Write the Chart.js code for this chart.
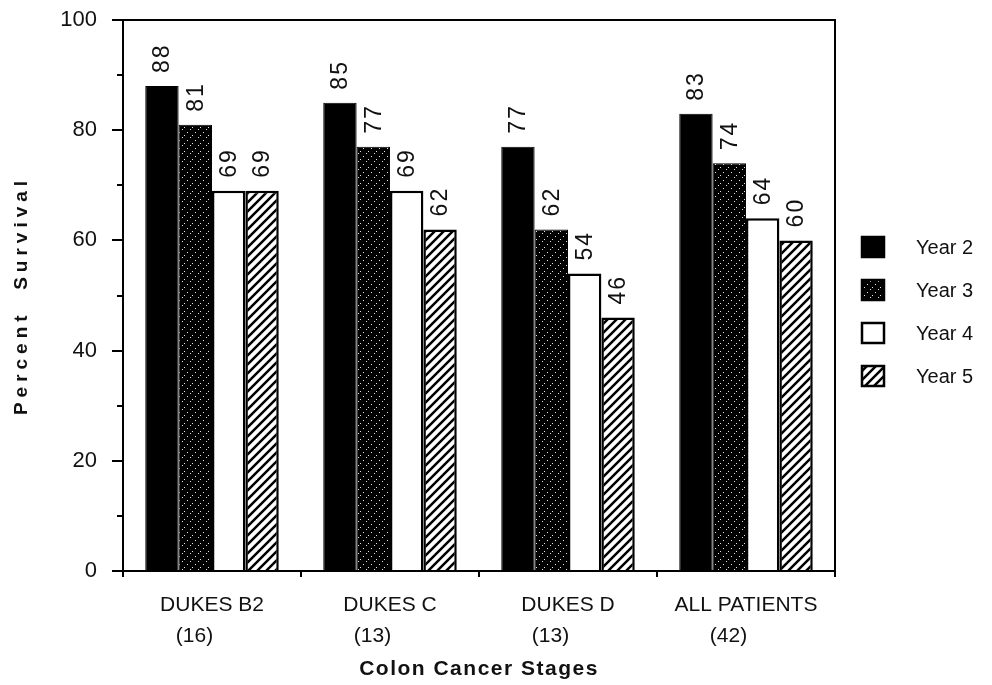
<!DOCTYPE html>
<html>
<head>
<meta charset="utf-8">
<title>Percent Survival by Colon Cancer Stage</title>
<script src="https://cdn.jsdelivr.net/npm/chart.js@4/dist/chart.umd.min.js"></script>
<style>
  html, body { margin: 0; padding: 0; background: #ffffff; }
  #wrap { width: 992px; height: 685px; }
</style>
</head>
<body>
<div id="wrap"><canvas id="chart" width="992" height="685"></canvas></div>
<script>
// Stages (with patient counts) and survival percentages per follow-up year
const stageNames = ['DUKES B2', 'DUKES C', 'DUKES D', 'ALL PATIENTS'];
const patientCounts = ['(16)', '(13)', '(13)', '(42)'];
const seriesNames = ['Year 2', 'Year 3', 'Year 4', 'Year 5'];
const year2 = [88, 85, 77, 83];
const year3 = [81, 77, 62, 74];
const year4 = [69, 69, 54, 64];
const year5 = [69, 62, 46, 60];
const yTicks = [0, 20, 40, 60, 80, 100];
const yMinorTicks = [10, 30, 50, 70, 90];

const FONT = '"Liberation Sans", Arial, Helvetica, sans-serif';
const INK = '#111111';

// Fill patterns for the bars
function makeTile(size, paint) {
  const c = document.createElement('canvas');
  c.width = size; c.height = size;
  paint(c.getContext('2d'), size);
  return document.getElementById('chart').getContext('2d').createPattern(c, 'repeat');
}
// black with sparse white dots along "/" diagonals
const dottedBlack = makeTile(8, (g, s) => {
  g.fillStyle = '#000'; g.fillRect(0, 0, s, s);
  g.fillStyle = 'rgba(255,255,255,0.9)';
  [[0, 7], [3, 4], [6, 1]].forEach(([x, y]) => g.fillRect(x, y, 1, 1));
});
// white with black "/" hatching
const hatched = makeTile(9, (g, s) => {
  g.fillStyle = '#fff'; g.fillRect(0, 0, s, s);
  g.strokeStyle = '#000'; g.lineWidth = 2.5; g.lineCap = 'square';
  g.beginPath();
  g.moveTo(0, s); g.lineTo(s, 0);
  g.moveTo(-2, 2); g.lineTo(2, -2);
  g.moveTo(s - 2, s + 2); g.lineTo(s + 2, s - 2);
  g.stroke();
});

const seriesValues = [year2, year3, year4, year5];
const seriesFills = ['#000000', dottedBlack, '#ffffff', hatched];
const seriesBorders = [1, 1, 2.5, 2.5];

const labels = stageNames.map((n, i) => [n, patientCounts[i] + '      ']);

// Rotated value labels above each bar
const valueLabels = {
  id: 'valueLabels',
  afterDatasetsDraw(chart) {
    const ctx = chart.ctx;
    ctx.save();
    ctx.font = '23px ' + FONT;
    ctx.fillStyle = INK;
    ctx.textAlign = 'left';
    ctx.textBaseline = 'middle';
    ctx.letterSpacing = '2px';
    chart.data.datasets.forEach((ds, di) => {
      chart.getDatasetMeta(di).data.forEach((bar, i) => {
        ctx.save();
        ctx.translate(bar.x + 1, bar.y - 13);
        ctx.rotate(-Math.PI / 2);
        ctx.fillText(String(ds.data[i]), 0, 0);
        ctx.restore();
      });
    });
    ctx.restore();
  }
};

// Top/right frame lines and short minor ticks on the y axis
const frame = {
  id: 'frame',
  afterDraw(chart) {
    const { ctx, chartArea: a, scales: { y } } = chart;
    ctx.save();
    ctx.strokeStyle = '#000';
    ctx.lineWidth = 2;
    ctx.beginPath();
    ctx.moveTo(a.left - 11, a.top);
    ctx.lineTo(a.right, a.top);
    ctx.lineTo(a.right, a.bottom);
    ctx.stroke();
    ctx.beginPath();
    yMinorTicks.forEach(v => {
      const py = Math.round(y.getPixelForValue(v));
      ctx.moveTo(a.left - 6, py);
      ctx.lineTo(a.left, py);
    });
    ctx.stroke();
    ctx.restore();
  }
};

// Legend drawn at the right of the plot, one swatch per dataset
const sideLegend = {
  id: 'sideLegend',
  afterDraw(chart) {
    const { ctx, chartArea: a } = chart;
    const x0 = a.right + 27;
    const y0 = 247;
    const step = 43;
    ctx.save();
    ctx.font = '20px ' + FONT;
    ctx.fillStyle = INK;
    ctx.textBaseline = 'middle';
    chart.data.datasets.forEach((ds, i) => {
      const cy = y0 + i * step;
      ctx.fillStyle = ds.backgroundColor;
      ctx.fillRect(x0, cy - 10, 22, 20);
      ctx.strokeStyle = '#000';
      ctx.lineWidth = 2.5;
      ctx.strokeRect(x0, cy - 10, 22, 20);
      ctx.fillStyle = INK;
      ctx.fillText(ds.label, x0 + 54, cy + 1);
    });
    ctx.restore();
  }
};

// Wider letter spacing for the axis titles
const spacedTitles = {
  id: 'spacedTitles',
  beforeDraw(chart) {
    [['x', '1.5px'], ['y', '5px']].forEach(([id, sp]) => {
      const s = chart.scales[id];
      if (s && !s.__spaced) {
        const orig = s.drawTitle.bind(s);
        s.drawTitle = function () {
          this.ctx.save();
          this.ctx.letterSpacing = sp;
          orig();
          this.ctx.restore();
        };
        s.__spaced = true;
      }
    });
  }
};

new Chart(document.getElementById('chart'), {
  type: 'bar',
  data: {
    labels: labels,
    datasets: seriesNames.map((name, i) => ({
      label: name,
      data: seriesValues[i],
      backgroundColor: seriesFills[i],
      borderColor: '#000000',
      borderWidth: seriesBorders[i],
      categoryPercentage: 0.75,
      barPercentage: 1.0
    }))
  },
  options: {
    responsive: false,
    animation: false,
    devicePixelRatio: 1,
    layout: { padding: { top: 20, right: 157, bottom: 0, left: 0 } },
    plugins: {
      legend: { display: false },
      tooltip: { enabled: false }
    },
    scales: {
      x: {
        afterFit: s => { s.height = 114; },
        ticks: {
          font: { family: FONT, size: 21, lineHeight: 1.5 },
          color: INK,
          padding: 12,
          maxRotation: 0,
          autoSkip: false
        },
        grid: { offset: true, drawOnChartArea: false, drawTicks: true, tickLength: 6, color: '#000', lineWidth: 2 },
        border: { color: '#000', width: 2 },
        title: {
          display: true,
          text: 'Colon Cancer Stages',
          font: { family: FONT, size: 21, weight: 'bold' },
          color: INK,
          padding: { top: 0, bottom: 3 }
        }
      },
      y: {
        min: 0,
        max: 100,
        afterBuildTicks: s => { s.ticks = yTicks.map(v => ({ value: v })); },
        afterFit: s => { s.width = 123; s.paddingTop = 8; s.paddingBottom = 8; },
        ticks: {
          font: { family: FONT, size: 22 },
          color: INK,
          padding: 15
        },
        grid: { drawOnChartArea: false, drawTicks: true, tickLength: 11, color: '#000', lineWidth: 2 },
        border: { color: '#000', width: 2 },
        title: {
          display: true,
          text: 'Percent  Survival',
          font: { family: FONT, size: 19, weight: 'bold' },
          color: INK,
          padding: { top: 10, bottom: 0 }
        }
      }
    }
  },
  plugins: [spacedTitles, valueLabels, frame, sideLegend]
});
</script>
</body>
</html>
